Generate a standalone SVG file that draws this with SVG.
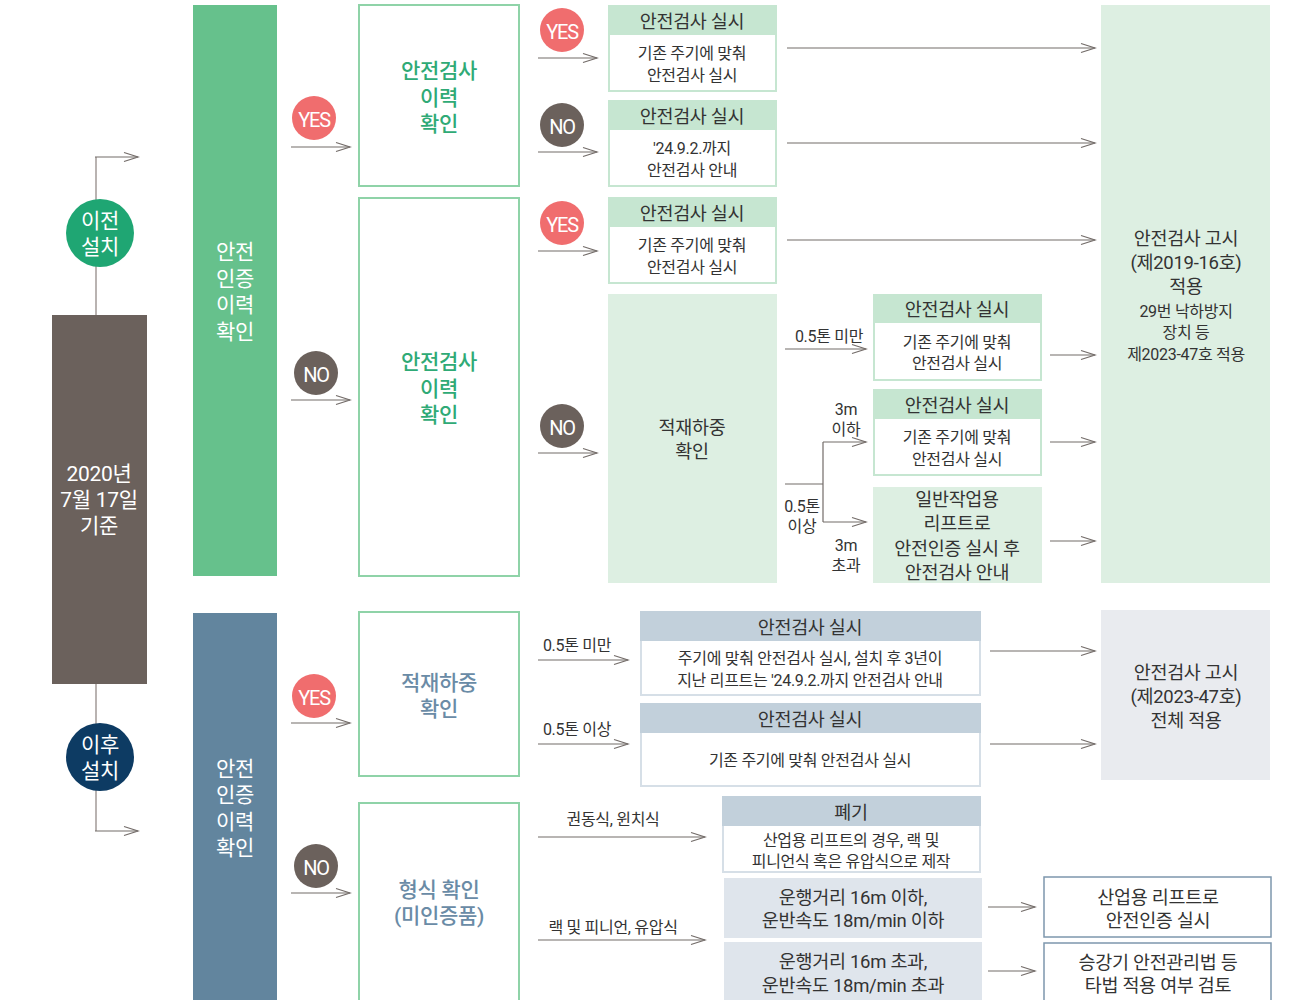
<svg xmlns="http://www.w3.org/2000/svg" width="1290" height="1000" viewBox="0 0 1290 1000">
<style>
text{font-family:Roboto,"Noto Sans CJK KR","Noto Sans",sans-serif;text-anchor:middle;dominant-baseline:central;letter-spacing:-0.3px;transform:translateY(1.5px)}
.w{fill:#ffffff;font-size:21px}
.c{fill:#ffffff;font-size:20px;letter-spacing:-1.2px}
.g{fill:#2faa76;font-size:21px;font-weight:500}
.b{fill:#6a8ba6;font-size:21px;font-weight:500}
.h{fill:#333;font-size:18.5px}
.t{fill:#333;font-size:16px}
.s{fill:#333;font-size:16px}
.gh{fill:#c6e6d1}
.gb{fill:#fff;stroke:#c6e6d1;stroke-width:2}
.gl{fill:#ddefe2}
.bh{fill:#c2d0db}
.bb{fill:#fff;stroke:#d6dfe7;stroke-width:2}
.bl{fill:#dfe5ec}
.ob{fill:#fff;stroke:#8fd3a8;stroke-width:2}
.ar{fill:none;stroke:#736c69;stroke-width:1.2;marker-end:url(#ah)}
.vl{fill:none;stroke:#b9b3b1;stroke-width:2}
</style>
<defs>
<marker id="ah" markerUnits="userSpaceOnUse" markerWidth="18" markerHeight="12" refX="15" refY="6" orient="auto">
<path d="M1,1.5 L15,6 L1,10.5" fill="none" stroke="#736c69" stroke-width="1.2"/>
</marker>
</defs>
<rect width="1290" height="1000" fill="#fff"/>

<g id="connectors">
<path class="vl" d="M96,315 V157"/>
<path class="ar" d="M95,157 H138"/>
<path class="vl" d="M96,684 V831"/>
<path class="ar" d="M95,831 H138"/>
<path class="ar" d="M291,147 H350"/>
<path class="ar" d="M291,400 H350"/>
<path class="ar" d="M291,723 H350"/>
<path class="ar" d="M291,893 H350"/>
<path class="ar" d="M538,58 H597"/>
<path class="ar" d="M538,152 H597"/>
<path class="ar" d="M538,251 H597"/>
<path class="ar" d="M538,453 H597"/>
<path class="ar" d="M787,48 H1095"/>
<path class="ar" d="M787,143 H1095"/>
<path class="ar" d="M787,240 H1095"/>
<path class="ar" d="M785,349 H866"/>
<path fill="none" stroke="#736c69" stroke-width="1.2" d="M785,484 H823 M823,442 V522"/>
<path class="ar" d="M823,442 H866"/>
<path class="ar" d="M823,522 H866"/>
<path class="ar" d="M1050,355 H1095"/>
<path class="ar" d="M1050,442 H1095"/>
<path class="ar" d="M1050,541 H1095"/>
<path class="ar" d="M538,660 H628"/>
<path class="ar" d="M538,744 H628"/>
<path class="ar" d="M990,651 H1095"/>
<path class="ar" d="M990,744 H1095"/>
<path class="ar" d="M538,837 H705"/>
<path class="ar" d="M538,940 H705"/>
<path class="ar" d="M988,907 H1035"/>
<path class="ar" d="M988,971 H1035"/>
<text class="s" x="829" y="335">0.5톤 미만</text>
<text class="s" x="846" y="408">3m</text>
<text class="s" x="846" y="428">이하</text>
<text class="s" x="802" y="505">0.5톤</text>
<text class="s" x="802" y="525">이상</text>
<text class="s" x="846" y="544">3m</text>
<text class="s" x="846" y="564">초과</text>
<text class="s" x="577" y="644">0.5톤 미만</text>
<text class="s" x="577" y="728">0.5톤 이상</text>
<text class="s" x="613" y="818">권동식, 윈치식</text>
<text class="s" x="613" y="926">랙 및 피니언, 유압식</text>
</g>

<g id="before">
<circle cx="100" cy="233" r="34" fill="#1fa673"/>
<text class="w" x="100" y="219">이전</text>
<text class="w" x="100" y="245">설치</text>
</g>
<g id="date">
<rect x="52" y="315" width="95" height="369" fill="#6b615c"/>
<text class="w" x="99" y="472">2020년</text>
<text class="w" x="99" y="498">7월 17일</text>
<text class="w" x="99" y="524">기준</text>
</g>
<g id="after">
<circle cx="100" cy="757" r="34" fill="#0d3b63"/>
<text class="w" x="100" y="743">이후</text>
<text class="w" x="100" y="769">설치</text>
</g>

<g id="cert1">
<rect x="193" y="5" width="84" height="571" fill="#66c18c"/>
<text class="w" x="235" y="250">안전</text>
<text class="w" x="235" y="277">인증</text>
<text class="w" x="235" y="303">이력</text>
<text class="w" x="235" y="330">확인</text>
</g>
<g id="cert2">
<rect x="193" y="613" width="84" height="387" fill="#62859e"/>
<text class="w" x="235" y="767">안전</text>
<text class="w" x="235" y="793">인증</text>
<text class="w" x="235" y="820">이력</text>
<text class="w" x="235" y="846">확인</text>
</g>

<g id="yes1"><circle cx="314" cy="118" r="22" fill="#f06d6e"/><text class="c" x="314" y="118">YES</text></g>
<g id="no1"><circle cx="316" cy="373" r="22" fill="#6b615c"/><text class="c" x="316" y="373">NO</text></g>
<g id="yes2"><circle cx="314" cy="696" r="22" fill="#f06d6e"/><text class="c" x="314" y="696">YES</text></g>
<g id="no2"><circle cx="316" cy="866" r="22" fill="#6b615c"/><text class="c" x="316" y="866">NO</text></g>

<g id="hist1">
<rect class="ob" x="359" y="5" width="160" height="181"/>
<text class="g" x="439" y="69">안전검사</text>
<text class="g" x="439" y="96">이력</text>
<text class="g" x="439" y="122">확인</text>
</g>
<g id="hist2">
<rect class="ob" x="359" y="198" width="160" height="378"/>
<text class="g" x="439" y="360">안전검사</text>
<text class="g" x="439" y="387">이력</text>
<text class="g" x="439" y="413">확인</text>
</g>
<g id="load">
<rect class="ob" x="359" y="612" width="160" height="164"/>
<text class="b" x="439" y="681">적재하중</text>
<text class="b" x="439" y="707">확인</text>
</g>
<g id="type">
<rect class="ob" x="359" y="803" width="160" height="200"/>
<text class="b" x="439" y="888">형식 확인</text>
<text class="b" x="439" y="914">(미인증품)</text>
</g>

<g id="yes3"><circle cx="562" cy="30" r="22" fill="#f06d6e"/><text class="c" x="562" y="30">YES</text></g>
<g id="no3"><circle cx="562" cy="125" r="22" fill="#6b615c"/><text class="c" x="562" y="125">NO</text></g>
<g id="yes4"><circle cx="562" cy="223" r="22" fill="#f06d6e"/><text class="c" x="562" y="223">YES</text></g>
<g id="no4"><circle cx="562" cy="426" r="22" fill="#6b615c"/><text class="c" x="562" y="426">NO</text></g>

<g id="boxA">
<rect class="gb" x="609" y="6" width="167" height="85"/>
<rect class="gh" x="608" y="5" width="169" height="30"/>
<text class="h" x="692" y="20">안전검사 실시</text>
<text class="t" x="692" y="52">기존 주기에 맞춰</text>
<text class="t" x="692" y="74">안전검사 실시</text>
</g>
<g id="boxB">
<rect class="gb" x="609" y="101" width="167" height="85"/>
<rect class="gh" x="608" y="100" width="169" height="30"/>
<text class="h" x="692" y="115">안전검사 실시</text>
<text class="t" x="692" y="147">'24.9.2.까지</text>
<text class="t" x="692" y="169">안전검사 안내</text>
</g>
<g id="boxC">
<rect class="gb" x="609" y="198" width="167" height="85"/>
<rect class="gh" x="608" y="197" width="169" height="30"/>
<text class="h" x="692" y="212">안전검사 실시</text>
<text class="t" x="692" y="244">기존 주기에 맞춰</text>
<text class="t" x="692" y="266">안전검사 실시</text>
</g>
<g id="boxD">
<rect class="gl" x="608" y="294" width="169" height="289"/>
<text class="h" x="692" y="426">적재하중</text>
<text class="h" x="692" y="450">확인</text>
</g>
<g id="boxE">
<rect class="gb" x="874" y="295" width="167" height="85"/>
<rect class="gh" x="873" y="294" width="169" height="29"/>
<text class="h" x="957" y="308">안전검사 실시</text>
<text class="t" x="957" y="341">기존 주기에 맞춰</text>
<text class="t" x="957" y="362">안전검사 실시</text>
</g>
<g id="boxF">
<rect class="gb" x="874" y="390" width="167" height="85"/>
<rect class="gh" x="873" y="389" width="169" height="30"/>
<text class="h" x="957" y="404">안전검사 실시</text>
<text class="t" x="957" y="436">기존 주기에 맞춰</text>
<text class="t" x="957" y="458">안전검사 실시</text>
</g>
<g id="boxG">
<rect class="gl" x="873" y="487" width="169" height="96"/>
<text class="h" x="957" y="498">일반작업용</text>
<text class="h" x="957" y="522">리프트로</text>
<text class="h" x="957" y="547">안전인증 실시 후</text>
<text class="h" x="957" y="571">안전검사 안내</text>
</g>
<g id="notice1">
<rect class="gl" x="1101" y="5" width="169" height="578"/>
<text class="h" x="1186" y="237">안전검사 고시</text>
<text class="h" x="1186" y="261">(제2019-16호)</text>
<text class="h" x="1186" y="285">적용</text>
<text class="t" x="1186" y="310">29번 낙하방지</text>
<text class="t" x="1186" y="331">장치 등</text>
<text class="t" x="1186" y="353">제2023-47호 적용</text>
</g>

<g id="boxH">
<rect class="bb" x="641" y="612" width="339" height="83"/>
<rect class="bh" x="640" y="611" width="341" height="30"/>
<text class="h" x="810" y="626">안전검사 실시</text>
<text class="t" x="810" y="657">주기에 맞춰 안전검사 실시, 설치 후 3년이</text>
<text class="t" x="810" y="679">지난 리프트는 '24.9.2.까지 안전검사 안내</text>
</g>
<g id="boxI">
<rect class="bb" x="641" y="704" width="339" height="82"/>
<rect class="bh" x="640" y="703" width="341" height="30"/>
<text class="h" x="810" y="718">안전검사 실시</text>
<text class="t" x="810" y="759">기존 주기에 맞춰 안전검사 실시</text>
</g>
<g id="notice2">
<rect fill="#e9ebef" x="1101" y="610" width="169" height="170"/>
<text class="h" x="1186" y="671">안전검사 고시</text>
<text class="h" x="1186" y="695">(제2023-47호)</text>
<text class="h" x="1186" y="719">전체 적용</text>
</g>
<g id="boxJ">
<rect class="bb" x="723" y="797" width="257" height="75"/>
<rect class="bh" x="722" y="796" width="259" height="30"/>
<text class="h" x="851" y="811">폐기</text>
<text class="t" x="851" y="839">산업용 리프트의 경우, 랙 및</text>
<text class="t" x="851" y="860">피니언식 혹은 유압식으로 제작</text>
</g>
<g id="boxK">
<rect class="bl" x="724" y="878" width="258" height="60"/>
<text class="h" x="853" y="896">운행거리 16m 이하,</text>
<text class="h" x="853" y="919">운반속도 18m/min 이하</text>
</g>
<g id="boxL">
<rect class="bl" x="724" y="942" width="258" height="60"/>
<text class="h" x="853" y="960">운행거리 16m 초과,</text>
<text class="h" x="853" y="984">운반속도 18m/min 초과</text>
</g>
<g id="boxM">
<rect fill="#fff" stroke="#7d97ad" stroke-width="1.5" x="1044" y="877" width="227" height="60"/>
<text class="h" x="1158" y="896">산업용 리프트로</text>
<text class="h" x="1158" y="919">안전인증 실시</text>
</g>
<g id="boxN">
<rect fill="#fff" stroke="#7d97ad" stroke-width="1.5" x="1044" y="943" width="227" height="60"/>
<text class="h" x="1158" y="961">승강기 안전관리법 등</text>
<text class="h" x="1158" y="984">타법 적용 여부 검토</text>
</g>
</svg>
